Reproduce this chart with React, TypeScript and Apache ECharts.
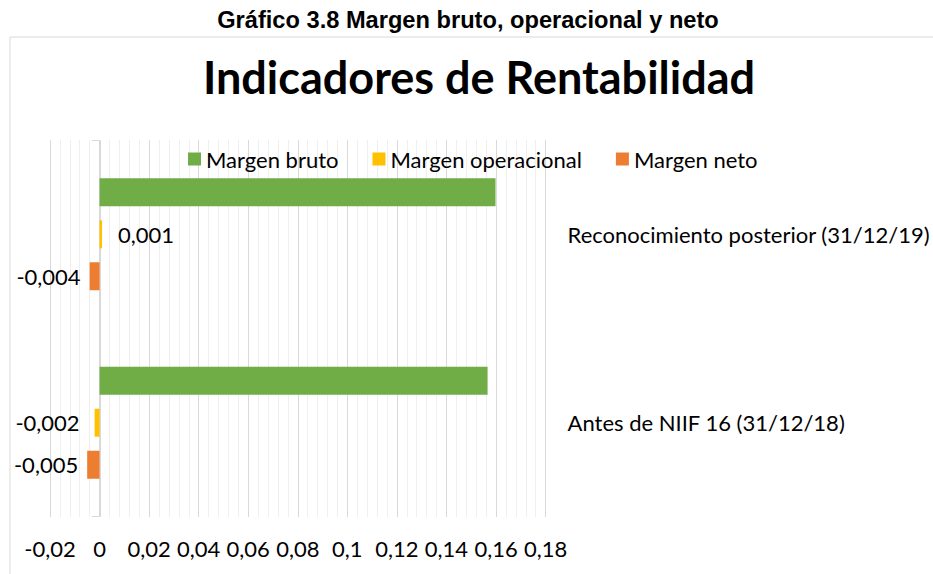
import React, { useEffect, useRef } from "react";
import * as echarts from "echarts";

const categories = ["Antes de NIIF 16 (31/12/18)", "Reconocimiento posterior (31/12/19)"];
const seriesNames = ["Margen bruto", "Margen operacional", "Margen neto"];
const margenBruto = [0.1566, 0.1598];
const margenOperacional = [-0.002, 0.001];
const margenNeto = [-0.005, -0.004];
const xTicks = { min: -0.02, max: 0.18, interval: 0.02 };
const colors = ["#70AD47", "#FFC000", "#ED7D31"];

const FONT = "Lato";

const fmt = (v: number) => String(+(+v).toFixed(4)).replace(".", ",");

function labeled(values: number[], show: boolean, negDist: number) {
  return values.map((v) => ({
    value: v,
    label: {
      show,
      position: v < 0 ? "left" : "right",
      distance: v < 0 ? negDist : 16,
      formatter: (p: any) => fmt(p.value),
      color: "#000",
      fontFamily: FONT,
      fontSize: 22,
    },
  }));
}

export default function App() {
  const ref = useRef<HTMLDivElement>(null);
  useEffect(() => {
    if (!ref.current) return;
    const chart = echarts.init(ref.current, null, { renderer: "svg" });
    chart.setOption({
      animation: false,
      backgroundColor: "#fff",
      color: colors,
      graphic: [
        {
          type: "rect",
          shape: { x: 10, y: 37, width: 940, height: 560 },
          style: { fill: "none", stroke: "#D9D9D9", lineWidth: 1 },
          silent: true,
        },
        {
          type: "text",
          x: 468,
          y: 19,
          scaleX: 0.985,
          style: {
            text: "Gráfico 3.8 Margen bruto, operacional y neto",
            fontFamily: "Liberation Sans",
            fontWeight: "bold",
            fontSize: 24,
            fill: "#000",
            textAlign: "center",
            textVerticalAlign: "middle",
          },
        },
        {
          type: "text",
          x: 479,
          y: 77,
          style: {
            text: "Indicadores de Rentabilidad",
            fontFamily: FONT,
            fontWeight: "bold",
            fontSize: 45,
            fill: "#000",
            textAlign: "center",
            textVerticalAlign: "middle",
          },
        },
        {
          type: "polyline",
          shape: { points: [[92, 140.5], [100.5, 140.5], [100.5, 516.5], [92, 516.5]] },
          style: { fill: "none", stroke: "#D9D9D9", lineWidth: 1 },
          silent: true,
          z: 0,
        },
      ],
      legend: {
        data: seriesNames,
        left: 183,
        top: 143,
        icon: "rect",
        itemWidth: 13,
        itemHeight: 13,
        itemGap: 34,
        textStyle: { fontFamily: FONT, fontSize: 22, color: "#000" },
      },
      grid: { left: 50, right: 383, top: 140, bottom: 57, containLabel: false },
      xAxis: {
        type: "value",
        min: xTicks.min,
        max: xTicks.max,
        interval: xTicks.interval,
        axisLine: { show: false },
        axisTick: { show: false },
        axisLabel: {
          margin: 20,
          fontFamily: FONT,
          fontSize: 22,
          color: "#000",
          formatter: (v: number) => fmt(v),
        },
        splitLine: { show: true, lineStyle: { color: "#D9D9D9", width: 1 } },
        minorTick: { show: false, splitNumber: 5 },
        minorSplitLine: { show: true, lineStyle: { color: "#EFEFEF", width: 1 } },
      },
      yAxis: {
        type: "category",
        data: categories,
        position: "right",
        axisLine: { show: false },
        axisTick: { show: false },
        splitLine: { show: false },
        axisLabel: {
          align: "left",
          margin: 22,
          fontFamily: FONT,
          fontSize: 22,
          color: "#000",
        },
      },
      series: [
        {
          name: seriesNames[0],
          type: "bar",
          barWidth: 28,
          barGap: "50%",
          data: labeled(margenBruto, false, 10),
        },
        {
          name: seriesNames[1],
          type: "bar",
          barWidth: 28,
          barGap: "50%",
          data: labeled(margenOperacional, true, 15),
        },
        {
          name: seriesNames[2],
          type: "bar",
          barWidth: 28,
          barGap: "50%",
          data: labeled(margenNeto, true, 9),
        },
      ],
    });
    return () => chart.dispose();
  }, []);
  return (
    <div
      ref={ref}
      style={{ position: "absolute", left: 0, top: 0, width: 933, height: 574 }}
    />
  );
}
